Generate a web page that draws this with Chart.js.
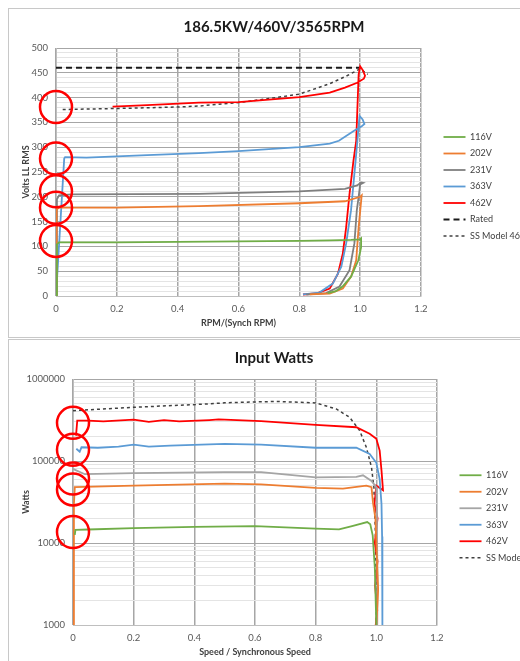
<!DOCTYPE html>
<html>
<head>
<meta charset="utf-8">
<script src="https://cdn.jsdelivr.net/npm/chart.js@4.4.1/dist/chart.umd.min.js"></script>
<style>
  html, body { margin: 0; padding: 0; background: #fff; overflow: hidden; width: 520px; height: 661px; }
  .panel { position: absolute; left: 8px; width: 600px; border: 1px solid #c8c8c8; }
  #panelTop { top: 8px; height: 328px; }
  #panelBottom { top: 339px; height: 340px; }
  canvas { position: absolute; left: 0; top: 0; }
</style>
</head>
<body>
<div class="panel" id="panelTop"><canvas id="voltsChart" width="522" height="328"></canvas></div>
<div class="panel" id="panelBottom"><canvas id="wattsChart" width="522" height="321"></canvas></div>
<script>
// ---- top chart: volts vs RPM/(Synch RPM), [x, y] pairs
const volts116 = [[0,0],[0.003,104],[0.01,108],[0.2,108],[0.4,109],[0.6,110],[0.8,111],[0.9,112],[0.97,113],[1.0,114],[1.003,116],[1.003,98],[0.994,72],[0.97,39],[0.942,19],[0.92,10],[0.893,6]];
const volts202 = [[0,0],[0.002,175],[0.01,178],[0.2,178],[0.47,181],[0.8,187],[0.95,191],[1.0,200],[1.005,203],[0.995,139],[0.987,72],[0.97,39],[0.943,15],[0.9,5],[0.834,3.4]];
const volts231 = [[0,0],[0.003,195],[0.01,203],[0.05,205],[0.47,206],[0.8,211],[0.95,216],[0.99,223],[1.003,229],[1.01,228],[1.0,225],[0.995,200],[0.989,173],[0.981,106],[0.965,52],[0.932,19],[0.888,6],[0.823,3]];
const volts363 = [[0,0],[0.027,277],[0.03,280],[0.1,279],[0.3,284],[0.47,288],[0.6,292],[0.8,300],[0.9,307],[0.93,313],[0.98,333],[1.005,342],[1.014,347],[1.008,356],[0.998,363],[0.985,273],[0.97,173],[0.954,106],[0.938,59],[0.91,25],[0.866,7],[0.812,3.4]];
const volts462 = [[0.186,382],[0.3,385],[0.47,390],[0.6,391],[0.8,401],[0.9,410],[0.95,420],[0.99,430],[1.012,438],[1.016,444],[1.009,455],[1.0,463],[0.995,447],[0.987,313],[0.978,273],[0.965,206],[0.954,139],[0.943,86],[0.927,45],[0.9,15],[0.855,5],[0.812,3]];
const voltsRated = [[0,460],[1.0,460]];
const voltsModel = [[0.022,376],[0.2,378],[0.4,381],[0.47,383],[0.6,390],[0.7,398],[0.8,407],[0.9,428],[0.95,442],[1.0,458],[1.025,447]];
const voltsCircles = [381, 277, 211, 178, 111]; // red rings on the y axis

// ---- bottom chart: input watts vs speed
const watts116 = [[0.006,12600],[0.008,14500],[0.05,14600],[0.2,15200],[0.4,15700],[0.6,16100],[0.8,15000],[0.877,14700],[0.92,16100],[0.97,18000],[0.98,16900],[0.988,12400],[0.995,5000],[1.0,1000]];
const watts202 = [[0.001,1000],[0.003,30000],[0.006,48000],[0.2,50000],[0.5,53000],[0.62,52000],[0.8,47000],[0.89,46000],[0.967,50000],[0.984,48000],[0.989,31000],[0.997,20000],[1.003,5000],[1.006,2700],[1.0,1000]];
const watts231 = [[0,80000],[0.039,69000],[0.2,71000],[0.5,73000],[0.62,73000],[0.8,63000],[0.934,64000],[0.956,67000],[0.984,57000],[1.0,48000],[1.002,15000],[1.004,2900],[1.003,1000]];
const watts363 = [[0.011,141000],[0.022,130000],[0.028,147000],[0.082,145000],[0.15,150000],[0.2,158000],[0.25,150000],[0.32,154000],[0.5,162000],[0.62,158000],[0.8,145000],[0.934,145000],[0.978,122000],[1.0,95000],[1.011,60000],[1.017,30000],[1.019,12000],[1.02,1000]];
const watts462 = [[0.01,204000],[0.014,310000],[0.05,310000],[0.1,305000],[0.2,320000],[0.25,300000],[0.3,315000],[0.35,305000],[0.45,316000],[0.48,321000],[0.62,306000],[0.8,276000],[0.934,258000],[0.978,215000],[1.0,187000],[1.011,134000],[1.017,77000],[1.022,44000],[1.0,50000],[0.994,30000],[1.004,20000],[0.995,10000],[1.004,6000],[0.996,3000],[1.003,1500],[0.998,1000]];
const wattsModel = [[0,411000],[0.2,452000],[0.45,497000],[0.5,513000],[0.67,533000],[0.8,511000],[0.868,431000],[0.912,341000],[0.945,235000],[0.967,147000],[0.984,84000],[0.992,48000],[0.998,10000],[1.0,1000]];
const wattsCircles = [292000, 137000, 61000, 45000, 13600];

const wattDecades = [1000, 10000, 100000, 1000000]; // labelled ticks on the log axis

const FONT = 'Lato, "Open Sans", sans-serif';
const toPts = arr => arr.map(p => ({ x: p[0], y: p[1] }));

function series(label, pts, color, extra) {
  return Object.assign({
    label: label,
    data: toPts(pts),
    showLine: true,
    borderColor: color,
    backgroundColor: color,
    borderWidth: 1.8,
    pointRadius: 0,
    pointHoverRadius: 0,
    tension: 0
  }, extra || {});
}

function rings(values) {
  return {
    label: '',
    data: values.map(v => ({ x: 0, y: v })),
    showLine: false,
    pointRadius: 16,
    pointBorderWidth: 2.5,
    pointBorderColor: '#ff0000',
    pointBackgroundColor: 'rgba(0,0,0,0)',
    clip: false,
    order: -1
  };
}

// legend items with the dataset's dash pattern (point style alone drops it)
function legendItems(chart) {
  return Chart.defaults.plugins.legend.labels.generateLabels(chart).map(item => {
    const ds = chart.data.datasets[item.datasetIndex];
    item.lineDash = ds.borderDash || [];
    return item;
  });
}

function baseOptions(title, xTitle, yTitle, yWidth, legendWidth) {
  return {
    responsive: false,
    animation: false,
    layout: { padding: { left: 8, right: 0, top: 0, bottom: 5 } },
    plugins: {
      title: {
        display: true, text: title, color: '#1a1a1a',
        font: { family: FONT, size: 15, weight: 'bold' },
        padding: { top: 9, bottom: 12 }
      },
      legend: {
        position: 'right',
        maxWidth: legendWidth,
        title: { display: true, text: ' ', padding: 10, font: { family: FONT, size: 10 } },
        labels: {
          usePointStyle: true, pointStyle: 'line', pointStyleWidth: 22,
          color: '#404040', font: { family: FONT, size: 9 }, padding: 7.5,
          generateLabels: legendItems,
          filter: item => item.text
        }
      },
      tooltip: { enabled: false }
    },
    scales: {
      x: {
        type: 'linear', min: 0, max: 1.2,
        ticks: { stepSize: 0.2, color: '#595959', font: { family: FONT, size: 9.5 }, padding: 7 },
        grid: { color: '#a6a6a6', lineWidth: 1.5, drawTicks: false },
        border: { color: '#bfbfbf' },
        title: { display: true, text: xTitle, color: '#404040', font: { family: FONT, size: 9, weight: 'bold' } },
        afterFit: s => { s.height = 36; }
      },
      y: {
        grid: { drawTicks: false },
        border: { color: '#bfbfbf' },
        title: { display: true, text: yTitle, color: '#404040', font: { family: FONT, size: 9, weight: 'bold' } },
        afterFit: s => { s.width = yWidth; }
      },
      gap: {
        type: 'linear', position: 'right', display: true,
        grid: { display: false }, ticks: { display: false }, border: { display: false },
        afterFit: s => { s.width = 15; }
      }
    }
  };
}

// top chart
const voltsOpts = baseOptions('186.5KW/460V/3565RPM', 'RPM/(Synch RPM)', 'Volts LL RMS', 39, 95);
Object.assign(voltsOpts.scales.y, {
  type: 'linear', min: 0, max: 500,
  ticks: {
    stepSize: 10, autoSkip: false, padding: 8, color: '#595959', font: { family: FONT, size: 9.5 },
    callback: v => (v % 50 === 0 ? v : '')
  }
});
voltsOpts.scales.y.grid.color = c => (c.tick && c.tick.value % 50 === 0 ? '#a6a6a6' : '#e4e4e4');

new Chart(document.getElementById('voltsChart'), {
  type: 'scatter',
  data: {
    datasets: [
      rings(voltsCircles),
      series('116V', volts116, '#70ad47'),
      series('202V', volts202, '#ed7d31'),
      series('231V', volts231, '#7f7f7f'),
      series('363V', volts363, '#5b9bd5'),
      series('462V', volts462, '#ff0000'),
      series('Rated', voltsRated, '#1a1a1a', { borderDash: [6, 4], borderWidth: 2 }),
      series('SS Model 460V', voltsModel, '#404040', { borderDash: [3, 3], borderWidth: 1.5 })
    ]
  },
  options: voltsOpts
});

// bottom chart
const wattTicks = [];
wattDecades.forEach(d => {
  for (let m = 1; m <= 9; m++) {
    if (d * m <= 1000000) wattTicks.push(d * m);
  }
});

const wattsOpts = baseOptions('Input Watts', 'Speed / Synchronous Speed', 'Watts', 56, 79);
wattsOpts.layout.padding.bottom = 0;
Object.assign(wattsOpts.scales.y, {
  type: 'logarithmic', min: 1000, max: 1000000,
  afterBuildTicks: s => { s.ticks = wattTicks.map(v => ({ value: v })); },
  ticks: {
    autoSkip: false, padding: 8, color: '#595959', font: { family: FONT, size: 9.5 },
    callback: v => (wattDecades.includes(v) ? String(v) : '')
  }
});
wattsOpts.scales.y.grid.color = c => (c.tick && wattDecades.includes(c.tick.value) ? '#a6a6a6' : '#e4e4e4');

new Chart(document.getElementById('wattsChart'), {
  type: 'scatter',
  data: {
    datasets: [
      rings(wattsCircles),
      series('116V', watts116, '#70ad47'),
      series('202V', watts202, '#ed7d31'),
      series('231V', watts231, '#a5a5a5'),
      series('363V', watts363, '#5b9bd5'),
      series('462V', watts462, '#ff0000'),
      series('SS Model', wattsModel, '#404040', { borderDash: [3, 3], borderWidth: 1.5 })
    ]
  },
  options: wattsOpts
});
</script>
</body>
</html>
